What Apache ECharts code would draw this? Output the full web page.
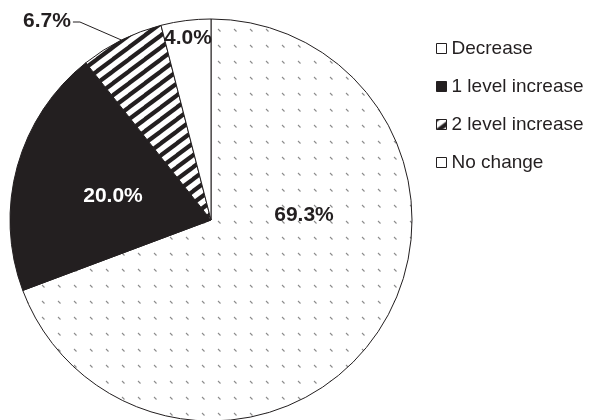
<!DOCTYPE html>
<html>
<head>
<meta charset="utf-8">
<script src="https://cdn.jsdelivr.net/npm/echarts@6/dist/echarts.min.js"></script>
<style>
html,body{margin:0;padding:0;background:#fff;}
#chart{width:603px;height:420px;}
</style>
</head>
<body>
<div id="chart"></div>
<script>
// Data (pie order, clockwise from 12 o'clock)
const categories = ['No change', '1 level increase', '2 level increase', 'Decrease'];
const values = [69.3, 20.0, 6.7, 4.0];
// Legend order
const legendOrder = ['Decrease', '1 level increase', '2 level increase', 'No change'];

const INK = '#231f20';

function dotPattern() {
  const c = document.createElement('canvas');
  c.width = 16; c.height = 16;
  const g = c.getContext('2d');
  g.fillStyle = '#fff'; g.fillRect(0, 0, 16, 16);
  g.strokeStyle = '#8c8c8c'; g.lineWidth = 1.1;
  g.beginPath(); g.moveTo(10, 13); g.lineTo(12.5, 15.5); g.stroke();
  return c;
}
function stripePattern() {
  const W = 16, H = 12;
  const c = document.createElement('canvas');
  c.width = W; c.height = H;
  const g = c.getContext('2d');
  g.fillStyle = '#fff'; g.fillRect(0, 0, W, H);
  g.strokeStyle = INK; g.lineWidth = 4.2;
  for (let k = -2; k <= 2; k++) {
    g.beginPath();
    g.moveTo(-W, 2 * H + H * k);
    g.lineTo(2 * W, -H + H * k);
    g.stroke();
  }
  return c;
}

const styles = {
  'No change': { color: { image: dotPattern(), repeat: 'repeat' } },
  '1 level increase': { color: INK },
  '2 level increase': { color: { image: stripePattern(), repeat: 'repeat' } },
  'Decrease': { color: '#ffffff' }
};
const labelPos = {
  'No change': [304, 215],
  '1 level increase': [113, 196],
  '2 level increase': [47, 21],
  'Decrease': [188, 38]
};

const data = categories.map((name, i) => ({
  name: name,
  value: values[i],
  itemStyle: Object.assign({ borderColor: INK, borderWidth: 1 }, styles[name]),
  label: {
    position: name === '2 level increase' ? 'outside' : 'inside',
    color: name === '1 level increase' ? '#ffffff' : INK
  },
  labelLine: { show: name === '2 level increase' }
}));

const chart = echarts.init(document.getElementById('chart'), null, { renderer: 'canvas' });
chart.setOption({
  animation: false,
  backgroundColor: '#ffffff',
  legend: {
    data: legendOrder,
    orient: 'vertical',
    left: 431,
    top: 34,
    itemWidth: 10,
    itemHeight: 10,
    itemGap: 19,
    icon: 'rect',
    itemStyle: { borderColor: INK, borderWidth: 1 },
    textStyle: { fontFamily: 'Liberation Sans, Arial, sans-serif', fontSize: 19, lineHeight: 19, color: INK }
  },
  series: [{
    type: 'pie',
    center: [211, 220],
    radius: [0, 201],
    startAngle: 90,
    clockwise: true,
    avoidLabelOverlap: false,
    data: data,
    emphasis: { disabled: true },
    label: {
      show: true,
      fontFamily: 'Liberation Sans, Arial, sans-serif',
      fontSize: 21,
      fontWeight: 'bold',
      formatter: p => p.value.toFixed(1) + '%'
    },
    labelLine: {
      length: 10, length2: 10,
      lineStyle: { color: INK, width: 1 }
    },
    labelLayout: function (params) {
      const name = categories[params.dataIndex];
      const pos = labelPos[name];
      const out = { x: pos[0], y: pos[1], align: 'center', verticalAlign: 'middle' };
      if (name === '2 level increase' && params.labelLinePoints) {
        const start = params.labelLinePoints[0];
        const rightEdge = pos[0] + params.labelRect.width / 2 + 2;
        out.labelLinePoints = [start, [rightEdge + 7, pos[1] + 1], [rightEdge, pos[1] + 1]];
      }
      return out;
    }
  }]
});
</script>
</body>
</html>
